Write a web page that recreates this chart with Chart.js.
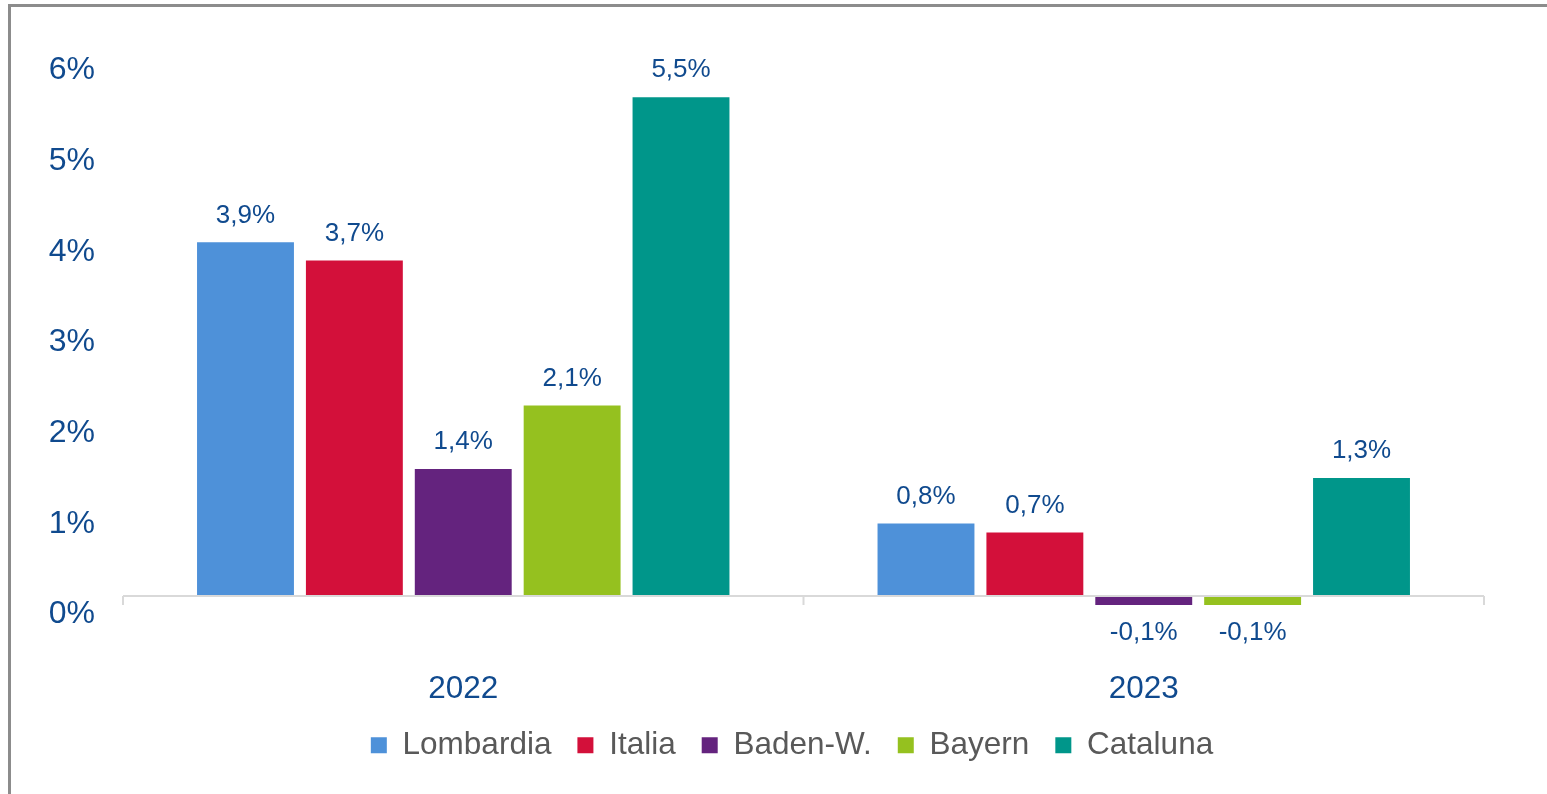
<!DOCTYPE html>
<html>
<head>
<meta charset="utf-8">
<script src="https://cdn.jsdelivr.net/npm/chart.js@4/dist/chart.umd.min.js"></script>
<style>
  html, body { margin: 0; padding: 0; background: #fff; overflow: hidden; }
  #wrap { position: relative; width: 1547px; height: 794px; }
  #frame { position: absolute; left: 8px; top: 4px; width: 1600px; height: 900px;
           border-left: 3px solid #8c8c8c; border-top: 3px solid #8c8c8c; }
  #chart-box { position: absolute; left: 0; top: 0; width: 1547px; height: 794px; }
</style>
</head>
<body>
<div id="wrap">
  <div id="frame"></div>
  <div id="chart-box"><canvas id="growth-chart"></canvas></div>
</div>
<script>
const years = ["2022", "2023"];
const regions = ["Lombardia", "Italia", "Baden-W.", "Bayern", "Cataluna"];
const lombardia = [3.9, 0.8];
const italia = [3.7, 0.7];
const badenW = [1.4, -0.1];
const bayern = [2.1, -0.1];
const cataluna = [5.5, 1.3];
const yTicks = [0, 1, 2, 3, 4, 5, 6];

const colors = ["#4e91d9", "#d3103a", "#64237e", "#95c11f", "#00968a"];
const blue = "#104a8e";
const fontFamily = "'Liberation Sans', Arial, sans-serif";

const fmt = (v) => `${v.toFixed(1).replace(".", ",")}%`;

// zero line plus small ticks at the category boundaries
const zeroLine = {
  id: "zeroLine",
  afterDatasetsDraw(chart) {
    const { ctx, scales: { x, y } } = chart;
    const y0 = y.getPixelForValue(0);
    ctx.save();
    ctx.strokeStyle = "#d9d9d9";
    ctx.lineWidth = 2;
    ctx.beginPath();
    ctx.moveTo(x.left, y0);
    ctx.lineTo(x.right, y0);
    const n = years.length;
    for (let i = 0; i <= n; i++) {
      const px = x.left + (x.right - x.left) * i / n;
      ctx.moveTo(px, y0);
      ctx.lineTo(px, y0 + 9);
    }
    ctx.stroke();
    ctx.restore();
  },
};

const valueLabels = {
  id: "valueLabels",
  afterDatasetsDraw(chart) {
    const { ctx } = chart;
    ctx.save();
    ctx.font = `26px ${fontFamily}`;
    ctx.fillStyle = blue;
    ctx.textAlign = "center";
    ctx.textBaseline = "middle";
    chart.data.datasets.forEach((ds, di) => {
      chart.getDatasetMeta(di).data.forEach((bar, i) => {
        const v = ds.data[i];
        const ty = v >= 0 ? bar.y - 27 : bar.y + 28;
        ctx.fillText(fmt(v), bar.x, ty);
      });
    });
    ctx.restore();
  },
};

// the legend sits centred on the whole picture, not on the plot area
const legendShift = {
  id: "legendShift",
  afterLayout(chart) {
    if (chart.legend) {
      chart.legend.left += 50;
      chart.legend.right += 50;
    }
  },
};

const series = [lombardia, italia, badenW, bayern, cataluna];

new Chart(document.getElementById("growth-chart"), {
  type: "bar",
  data: {
    labels: years,
    datasets: regions.map((name, i) => ({
      label: name,
      data: series[i],
      backgroundColor: colors[i],
      borderWidth: 0,
      categoryPercentage: 0.8,
      barPercentage: 0.89,
    })),
  },
  options: {
    responsive: true,
    maintainAspectRatio: false,
    animation: false,
    layout: { padding: { left: 0, right: 63, top: 52, bottom: 23 } },
    scales: {
      x: {
        grid: { display: false, drawTicks: false },
        border: { display: false },
        ticks: {
          color: blue,
          padding: 61,
          font: { family: fontFamily, size: 31.5 },
        },
        afterFit: (scale) => { scale.height = 94; },
      },
      y: {
        min: -0.15,
        max: 6,
        grid: { display: false, drawTicks: false },
        border: { display: false },
        afterBuildTicks: (scale) => { scale.ticks = yTicks.map((v) => ({ value: v })); },
        afterFit: (scale) => { scale.width = 123; },
        ticks: {
          color: blue,
          padding: 28,
          labelOffset: 18.5,
          callback: (v) => `${v}%`,
          font: { family: fontFamily, size: 32 },
        },
      },
    },
    plugins: {
      tooltip: { enabled: false },
      legend: {
        position: "bottom",
        labels: {
          boxWidth: 16,
          boxHeight: 16,
          padding: 26,
          color: "#595959",
          font: { family: fontFamily, size: 31.5 },
        },
      },
    },
  },
  plugins: [zeroLine, valueLabels, legendShift],
});
</script>
</body>
</html>
